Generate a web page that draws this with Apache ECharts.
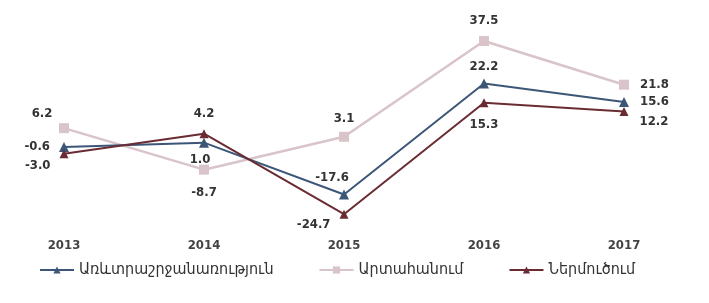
<!DOCTYPE html>
<html>
<head>
<meta charset="utf-8">
<script src="https://cdn.jsdelivr.net/npm/echarts@6/dist/echarts.min.js"></script>
<style>
  html, body { margin: 0; padding: 0; background: #fff; }
  #chart { width: 709px; height: 303px; }
</style>
</head>
<body>
<div id="chart"></div>
<script>
var years = ['2013', '2014', '2015', '2016', '2017'];
var seriesNames = ['Առևտրաշրջանառություն', 'Արտահանում', 'Ներմուծում'];
var turnover = [-0.6, 1.0, -17.6, 22.2, 15.6];
var exports_ = [6.2, -8.7, 3.1, 37.5, 21.8];
var imports_ = [-3.0, 4.2, -24.7, 15.3, 12.2];

// label placement per point (style only)
var turnoverPos = [['left', [-4, 0]], ['bottom', [-4, 0]], ['top', [-12, 0]], ['top', [0, 0]], ['right', [6, 0]]];
var exportPos = [['top', [-22, 2]], ['bottom', [0, 6]], ['top', [0, -2]], ['top', [0, -4]], ['right', [6, 0]]];
var importPos = [['left', [-4, 12]], ['top', [0, -4]], ['left', [-4, 10]], ['bottom', [0, 6]], ['right', [6, 10]]];

var font = "'DejaVu Sans Condensed', 'DejaVu Sans', sans-serif";

function items(values, pos) {
  return values.map(function (v, i) {
    return {
      value: v,
      label: { position: pos[i][0], offset: pos[i][1] }
    };
  });
}

function lineSeries(name, values, pos, color, symbol, size, width) {
  return {
    name: name,
    type: 'line',
    data: items(values, pos),
    symbol: symbol,
    symbolSize: size,
    lineStyle: { color: color, width: width },
    itemStyle: { color: color },
    label: {
      show: true,
      color: '#333',
      fontSize: 13,
      fontWeight: 'bold',
      fontFamily: font,
      formatter: function (p) { return p.value.toFixed(1); }
    }
  };
}

var chart = echarts.init(document.getElementById('chart'));
chart.setOption({
  animation: false,
  grid: { left: 64, right: 85, top: 34, height: 195, containLabel: false },
  xAxis: {
    type: 'category',
    data: years,
    boundaryGap: false,
    axisLine: { show: false },
    axisTick: { show: false },
    axisLabel: { color: '#444', fontSize: 13, fontWeight: 'bold', fontFamily: font, margin: 10 }
  },
  yAxis: {
    type: 'value',
    min: -30,
    max: 40,
    show: false,
    splitLine: { show: false }
  },
  legend: {
    bottom: 20,
    left: 34,
    itemGap: 45,
    itemWidth: 34,
    itemHeight: 9,
    textStyle: { color: '#333', fontSize: 16, fontFamily: font },
    data: seriesNames
  },
  series: [
    lineSeries(seriesNames[1], exports_, exportPos, '#d8c4c9', 'rect', 10, 2.5),
    lineSeries(seriesNames[0], turnover, turnoverPos, '#3c5678', 'triangle', 10, 2),
    lineSeries(seriesNames[2], imports_, importPos, '#6a2b32', 'triangle', 9, 2)
  ]
});
</script>
</body>
</html>
